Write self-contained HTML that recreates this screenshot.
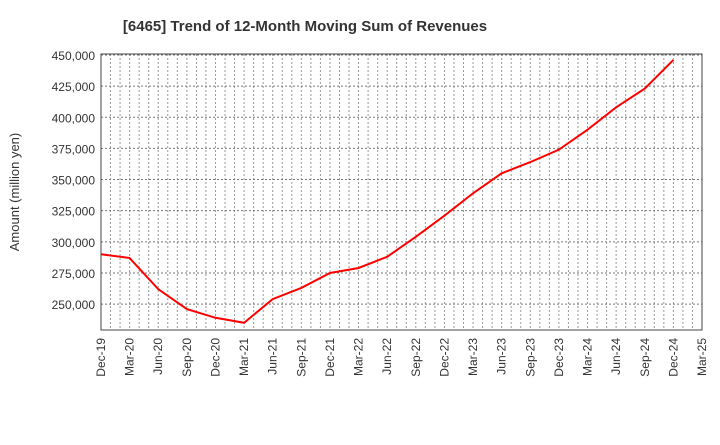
<!DOCTYPE html>
<html><head><meta charset="utf-8"><style>
body{margin:0;background:#fff;}
svg{font-family:"Liberation Sans",sans-serif;}
</style></head><body>
<svg id="chart" width="720" height="440">
<text x="305" y="31" text-anchor="middle" font-size="15" font-weight="bold" fill="#333">[6465]  Trend of 12-Month Moving Sum of Revenues</text>
<text transform="translate(19,192) rotate(-90)" text-anchor="middle" font-size="13" fill="#333">Amount (million yen)</text>
<g id="grid"></g><g id="axes"></g><g id="series"></g>
</svg>
<script>
const categories=["Dec-19","Mar-20","Jun-20","Sep-20","Dec-20","Mar-21","Jun-21","Sep-21","Dec-21","Mar-22","Jun-22","Sep-22","Dec-22","Mar-23","Jun-23","Sep-23","Dec-23","Mar-24","Jun-24","Sep-24","Dec-24","Mar-25"];
const revenues=[290000,287000,262000,246000,239000,235000,254000,263000,275000,279000,288000,304000,321000,339000,355000,364000,374000,390000,408000,423000,446000];
const yTicks=[250000,275000,300000,325000,350000,375000,400000,425000,450000];
const L=101,R=702,T=54,B=330,yMin=229200,yMax=450800;
const NS="http://www.w3.org/2000/svg";
const xq=i=>L+(R-L)*i/(categories.length-1);
const xm=m=>L+(R-L)*m/((categories.length-1)*3);
const y=v=>B-(v-yMin)/(yMax-yMin)*(B-T);
const grid=document.getElementById('grid'),axes=document.getElementById('axes'),ser=document.getElementById('series');
function mk(tag,attrs,parent){const e=document.createElementNS(NS,tag);for(const k in attrs)e.setAttribute(k,attrs[k]);parent.appendChild(e);return e;}
for(let m=1;m<(categories.length-1)*3;m++){
 const l=mk('line',{x1:xm(m),x2:xm(m),y1:T,y2:B,stroke:'#999','stroke-dasharray':'2,2','stroke-width':1},grid);
 
 
}
yTicks.forEach(v=>{
 const l=mk('line',{x1:L,x2:R,y1:y(v),y2:y(v),stroke:'#777','stroke-dasharray':'2,2','stroke-width':1},grid);
 
 
 const t=mk('text',{x:L-6,y:y(v)+5,'text-anchor':'end','font-size':12,fill:'#333'},axes);
 t.textContent=v.toLocaleString('en-US');
 
 
});
categories.forEach((c,i)=>{
 const t=mk('text',{transform:`translate(${xq(i)+4},${B+8}) rotate(-90)`,'text-anchor':'end','font-size':12,fill:'#333'},axes);
 t.textContent=c;
 
 
});
const box=mk('rect',{x:L,y:T,width:R-L,height:B-T,fill:'none',stroke:'#444','stroke-width':1},axes);


const p=mk('polyline',{points:revenues.map((v,i)=>xq(i)+','+y(v)).join(' '),fill:'none',stroke:'#ff0000','stroke-width':2},ser);


</script>
</body></html>
